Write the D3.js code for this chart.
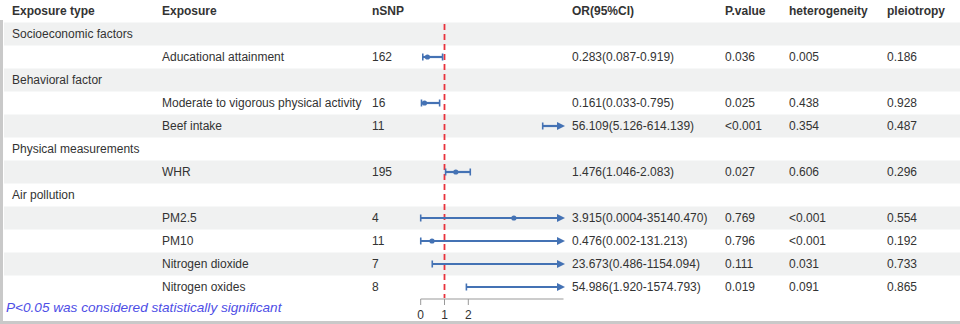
<!DOCTYPE html>
<html><head><meta charset="utf-8">
<script src="https://cdn.jsdelivr.net/npm/d3@7"></script>
<style>body{margin:0;background:#fff;}svg{display:block;font-family:"Liberation Sans",Arial,sans-serif;}</style>
</head><body>
<svg id="c" width="960" height="324"></svg>
<script>
const headers = ["Exposure type","Exposure","nSNP","OR(95%CI)","P.value","heterogeneity","pleiotropy"];
const exposureTypes = ["Socioeconomic factors","Behavioral factor","Physical measurements","Air pollution"];
const exposures = ["Aducational attainment","Moderate to vigorous physical activity","Beef intake","WHR","PM2.5","PM10","Nitrogen dioxide","Nitrogen oxides"];
const groupOf = [0,1,1,2,3,3,3,3];
const nSNP = [162,16,11,195,4,11,7,8];
const orVal = [0.283,0.161,56.109,1.476,3.915,0.476,23.673,54.986];
const lower = [0.087,0.033,5.126,1.046,0.0004,0.002,0.486,1.920];
const upper = [0.919,0.795,614.139,2.083,35140.470,131.213,1154.094,1574.793];
const orText = ["0.283(0.087-0.919)","0.161(0.033-0.795)","56.109(5.126-614.139)","1.476(1.046-2.083)","3.915(0.0004-35140.470)","0.476(0.002-131.213)","23.673(0.486-1154.094)","54.986(1.920-1574.793)"];
const pValue = ["0.036","0.025","<0.001","0.027","0.769","0.796","0.111","0.019"];
const heterogeneity = ["0.005","0.438","0.354","0.606","<0.001","<0.001","0.031","0.091"];
const pleiotropy = ["0.186","0.928","0.487","0.296","0.554","0.192","0.733","0.865"];
const xTicks = [0,1,2];
const xDomain = [0,6];
const footnote = "P<0.05 was considered statistically significant";

// build row sequence
const rows = [];
exposureTypes.forEach((t,g)=>{
  rows.push({type:"group", label:t});
  exposures.forEach((e,i)=>{ if(groupOf[i]===g) rows.push({type:"item", i}); });
});

const svg = d3.select("#c");
const rowH = 23, firstY = 34;
const yPos = d3.scaleLinear().domain([0,1]).range([firstY, firstY+rowH]);
const x = d3.scaleLinear().domain(xDomain).range([420.7,563.5]);
const colX = [12,162,372,572,725,789,887];
const textCol = "#333";
const blue = "#4472b4";

// shading
rows.forEach((r,k)=>{
  if(k%2===0) svg.append("rect").attr("x",4).attr("y",yPos(k)-rowH/2).attr("width",956).attr("height",rowH).attr("fill","#f0f1f1");
});

// frame
svg.append("rect").attr("x",0).attr("y",20).attr("width",3).attr("height",304).attr("fill","#c9c9c9");
svg.append("rect").attr("x",0).attr("y",321).attr("width",960).attr("height",3).attr("fill","#c9c9c9");

// headers
svg.selectAll("text.h").data(headers).join("text").attr("class","h")
  .attr("x",(d,i)=>colX[i]).attr("y",11).attr("dy","0.35em")
  .attr("font-size",12).attr("font-weight","bold").attr("fill",textCol).text(d=>d);

// row texts
rows.forEach((r,k)=>{
  const y = yPos(k);
  const t = (xx,s)=>svg.append("text").attr("x",xx).attr("y",y).attr("dy","0.35em").attr("font-size",12).attr("fill",textCol).text(s);
  if(r.type==="group"){ t(colX[0], r.label); }
  else {
    const i = r.i;
    t(colX[1], exposures[i]); t(colX[2], nSNP[i]); t(colX[3], orText[i]);
    t(colX[4], pValue[i]); t(colX[5], heterogeneity[i]); t(colX[6], pleiotropy[i]);
  }
});

// reference line
svg.append("line").attr("x1",x(1)).attr("x2",x(1)).attr("y1",24).attr("y2",298)
  .attr("stroke","#e8323c").attr("stroke-width",1.8).attr("stroke-dasharray","6,4");

// error bars
const g = svg.append("g");
rows.forEach((r,k)=>{
  if(r.type!=="item") return;
  const i=r.i, y=yPos(k);
  const lo = Math.max(lower[i], xDomain[0]);
  const hiClipped = upper[i] > xDomain[1];
  const hi = hiClipped ? xDomain[1] : upper[i];
  const xEnd = hiClipped ? x(hi)-6 : x(hi);
  g.append("line").attr("x1",x(lo)).attr("x2",xEnd).attr("y1",y).attr("y2",y).attr("stroke",blue).attr("stroke-width",2.2);
  g.append("line").attr("x1",x(lo)).attr("x2",x(lo)).attr("y1",y-3.5).attr("y2",y+3.5).attr("stroke",blue).attr("stroke-width",1.6);
  if(hiClipped){
    const tip = x(hi)+1.5;
    g.append("path").attr("d",`M${tip},${y} L${tip-8},${y-4} L${tip-8},${y+4} Z`).attr("fill",blue);
  } else {
    g.append("line").attr("x1",x(hi)).attr("x2",x(hi)).attr("y1",y-3.5).attr("y2",y+3.5).attr("stroke",blue).attr("stroke-width",1.6);
  }
  if(orVal[i]>=xDomain[0] && orVal[i]<=xDomain[1]){
    g.append("circle").attr("cx",x(orVal[i])).attr("cy",y).attr("r",2.6).attr("fill",blue);
  }
});

// axis
const axY = 299;
const ax = svg.append("g");
ax.append("line").attr("x1",x(xDomain[0])).attr("x2",x(xDomain[1])).attr("y1",axY).attr("y2",axY).attr("stroke","#999").attr("stroke-width",1);
ax.selectAll("line.t").data(xTicks).join("line").attr("class","t")
  .attr("x1",d=>x(d)).attr("x2",d=>x(d)).attr("y1",axY).attr("y2",axY+6).attr("stroke","#999");
ax.selectAll("text").data(xTicks).join("text")
  .attr("x",d=>x(d)).attr("y",315).attr("dy","0.35em").attr("text-anchor","middle")
  .attr("font-size",12).attr("fill",textCol).text(d=>d);

// footnote
svg.append("text").attr("x",6).attr("y",307).attr("dy","0.35em").attr("font-size",13.6)
  .attr("font-style","italic").attr("fill","#4e4ee6").text(footnote);
</script>
</body></html>
